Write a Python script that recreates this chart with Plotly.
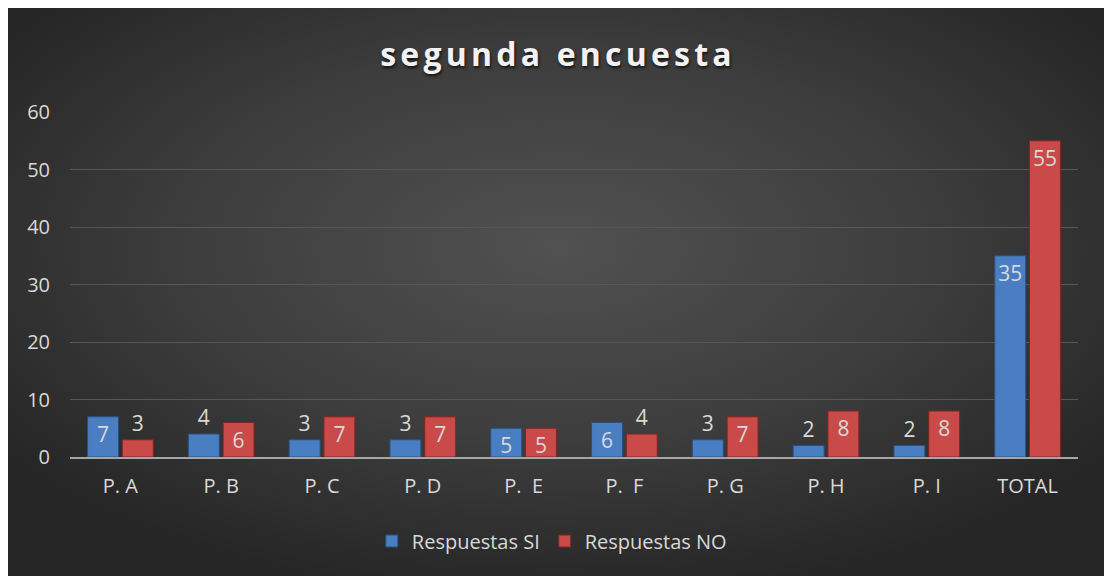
import base64
import plotly.graph_objects as go

categories = ["P. A", "P. B", "P. C", "P. D", "P.  E", "P.  F", "P. G", "P. H", "P. I", "TOTAL"]
si_values = [7, 4, 3, 3, 5, 6, 3, 2, 2, 35]
no_values = [3, 6, 7, 7, 5, 4, 7, 8, 8, 55]
series_names = ["Respuestas SI", "Respuestas NO"]
title_text = "segunda encuesta"

# page has 8px body margin; figure placed at (8,8)
W, H = 1100, 568
L, R, T, B = 62, 30, 104, 119
pw, ph = W - L - R, H - T - B

svg = (
    '<svg xmlns="http://www.w3.org/2000/svg" width="1100" height="568" preserveAspectRatio="none">'
    '<defs><radialGradient id="g" cx="50%" cy="42%" r="62%">'
    '<stop offset="0%" stop-color="#515151"/>'
    '<stop offset="55%" stop-color="#3d3d3d"/>'
    '<stop offset="100%" stop-color="#262626"/>'
    '</radialGradient></defs>'
    '<rect width="1100" height="568" fill="url(#g)"/></svg>'
)
src = "data:image/svg+xml;base64," + base64.b64encode(svg.encode()).decode()

FONT = "Open Sans, Calibri, sans-serif"
text_font = dict(family=FONT, size=21, color="#d9d9d9")


def label_positions(vals):
    return ["inside" if v >= 5 else "outside" for v in vals]


fig = go.Figure()
fig.add_trace(go.Bar(
    x=categories, y=si_values, name=series_names[0],
    marker=dict(color="#4a7ec2", line=dict(color="#2a4f80", width=1)),
    text=si_values, textposition=label_positions(si_values), insidetextanchor="end",
    textangle=0, textfont=text_font, constraintext="none", cliponaxis=False,
))
fig.add_trace(go.Bar(
    x=categories, y=no_values, name=series_names[1],
    marker=dict(color="#c94a48", line=dict(color="#7d2624", width=1)),
    text=no_values, textposition=label_positions(no_values), insidetextanchor="end",
    textangle=0, textfont=text_font, constraintext="none", cliponaxis=False,
))

fig.update_layout(
    width=W, height=H,
    margin=dict(l=L, r=R, t=T, b=B, pad=0, autoexpand=False),
    paper_bgcolor="#2c2c2c",
    plot_bgcolor="rgba(0,0,0,0)",
    barmode="group",
    bargap=0.31,
    bargroupgap=0.11,
    uniformtext=dict(mode="show", minsize=21),
    title=dict(
        text='<span style="letter-spacing:4.2px">' + title_text + '</span>',
        x=0.5, xref="container", xanchor="center",
        y=1 - (55 - 8) / H, yref="container", yanchor="middle",
        font=dict(family=FONT, size=32, color="#f2f2f2",
                  weight="bold", shadow="1px 2px 3px rgba(0,0,0,0.7)"),
    ),
    xaxis=dict(
        showgrid=False, showline=True, linecolor="#a6a6a6", linewidth=2,
        ticks="", tickfont=dict(family=FONT, size=20, color="#d9d9d9"),
        ticklabelstandoff=10, tickangle=0, automargin=False,
    ),
    yaxis=dict(
        range=[0, 60], dtick=10, showgrid=True, gridcolor="#575757", gridwidth=1,
        zeroline=False, showline=False, ticks="",
        tickfont=dict(family=FONT, size=20, color="#d9d9d9"),
        ticklabelstandoff=19, automargin=False,
    ),
    legend=dict(
        orientation="h", xref="paper", x=0.478, xanchor="center",
        y=(457 - 541) / ph, yanchor="middle",
        font=dict(family=FONT, size=20, color="#d9d9d9"),
        bgcolor="rgba(0,0,0,0)", itemwidth=30,
    ),
    images=[dict(
        source=src, xref="paper", yref="paper", x=-L / pw, y=1 + T / ph,
        sizex=W / pw, sizey=H / ph, sizing="stretch", xanchor="left", yanchor="top",
        layer="below",
    )],
)

fig.write_html("out.html")
